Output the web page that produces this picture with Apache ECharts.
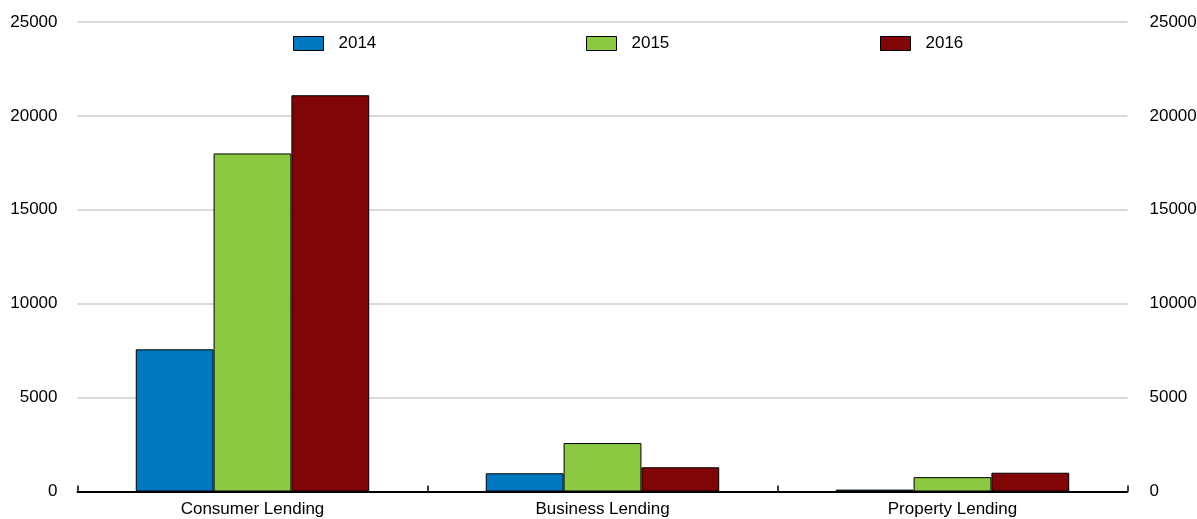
<!DOCTYPE html>
<html>
<head>
<meta charset="utf-8">
<script src="https://cdn.jsdelivr.net/npm/echarts@6/dist/echarts.min.js"></script>
<style>
html,body{margin:0;padding:0;background:#fff;}
#chart{width:1197px;height:519px;}
</style>
</head>
<body>
<div id="chart"></div>
<script>
const categories = ['Consumer Lending', 'Business Lending', 'Property Lending'];
const seriesNames = ['2014', '2015', '2016'];
const values2014 = [7570, 970, 100];
const values2015 = [18000, 2580, 765];
const values2016 = [21100, 1290, 1000];
const yTicks = [0, 5000, 10000, 15000, 20000, 25000];

const colors = ['#0179C1', '#8CC841', '#7F0506'];
const FONT = "'Liberation Sans',Arial,sans-serif";
const FS = 17;
const allValues = [values2014, values2015, values2016];
const legendLefts = [293, 586, 880];

const chart = echarts.init(document.getElementById('chart'), null, {renderer: 'canvas'});
const option = {
  animation: false,
  textStyle: {fontFamily: FONT},
  grid: {left: 77.5, right: 69.5, top: 22, bottom: 27.5, containLabel: false, outerBoundsMode: 'none'},
  legend: seriesNames.map((n, i) => ({
    data: [n],
    left: legendLefts[i],
    top: 35,
    padding: 0,
    itemWidth: 30,
    itemHeight: 14,
    icon: 'rect',
    itemStyle: {borderColor: '#000', borderWidth: 1},
    textStyle: {fontFamily: FONT, fontSize: FS, color: '#000', padding: [0, 0, 0, 10]}
  })),
  xAxis: {
    type: 'category',
    data: categories,
    axisLine: {lineStyle: {color: '#000', width: 2}},
    axisTick: {show: true, inside: true, length: 6, interval: 0, lineStyle: {color: '#000', width: 1.5}},
    axisLabel: {fontFamily: FONT, fontSize: FS, color: '#000', margin: 9},
    splitLine: {show: false}
  },
  yAxis: [0, 1].map(k => ({
    type: 'value',
    position: k === 0 ? 'left' : 'right',
    min: yTicks[0],
    max: yTicks[yTicks.length - 1],
    interval: yTicks[1] - yTicks[0],
    axisLine: {show: false},
    axisTick: {show: false},
    axisLabel: {fontFamily: FONT, fontSize: FS, color: '#000', margin: k === 0 ? 20 : 22,
      formatter: v => String(v)},
    splitLine: {show: k === 0, lineStyle: {color: '#d9d9d9', width: 2}}
  })),
  series: seriesNames.map((n, i) => ({
    name: n,
    type: 'bar',
    data: allValues[i],
    barGap: '0%',
    barCategoryGap: '33.3%',
    itemStyle: {color: colors[i], borderColor: '#000', borderWidth: 1}
  }))
};
chart.setOption(option);
</script>
</body>
</html>
